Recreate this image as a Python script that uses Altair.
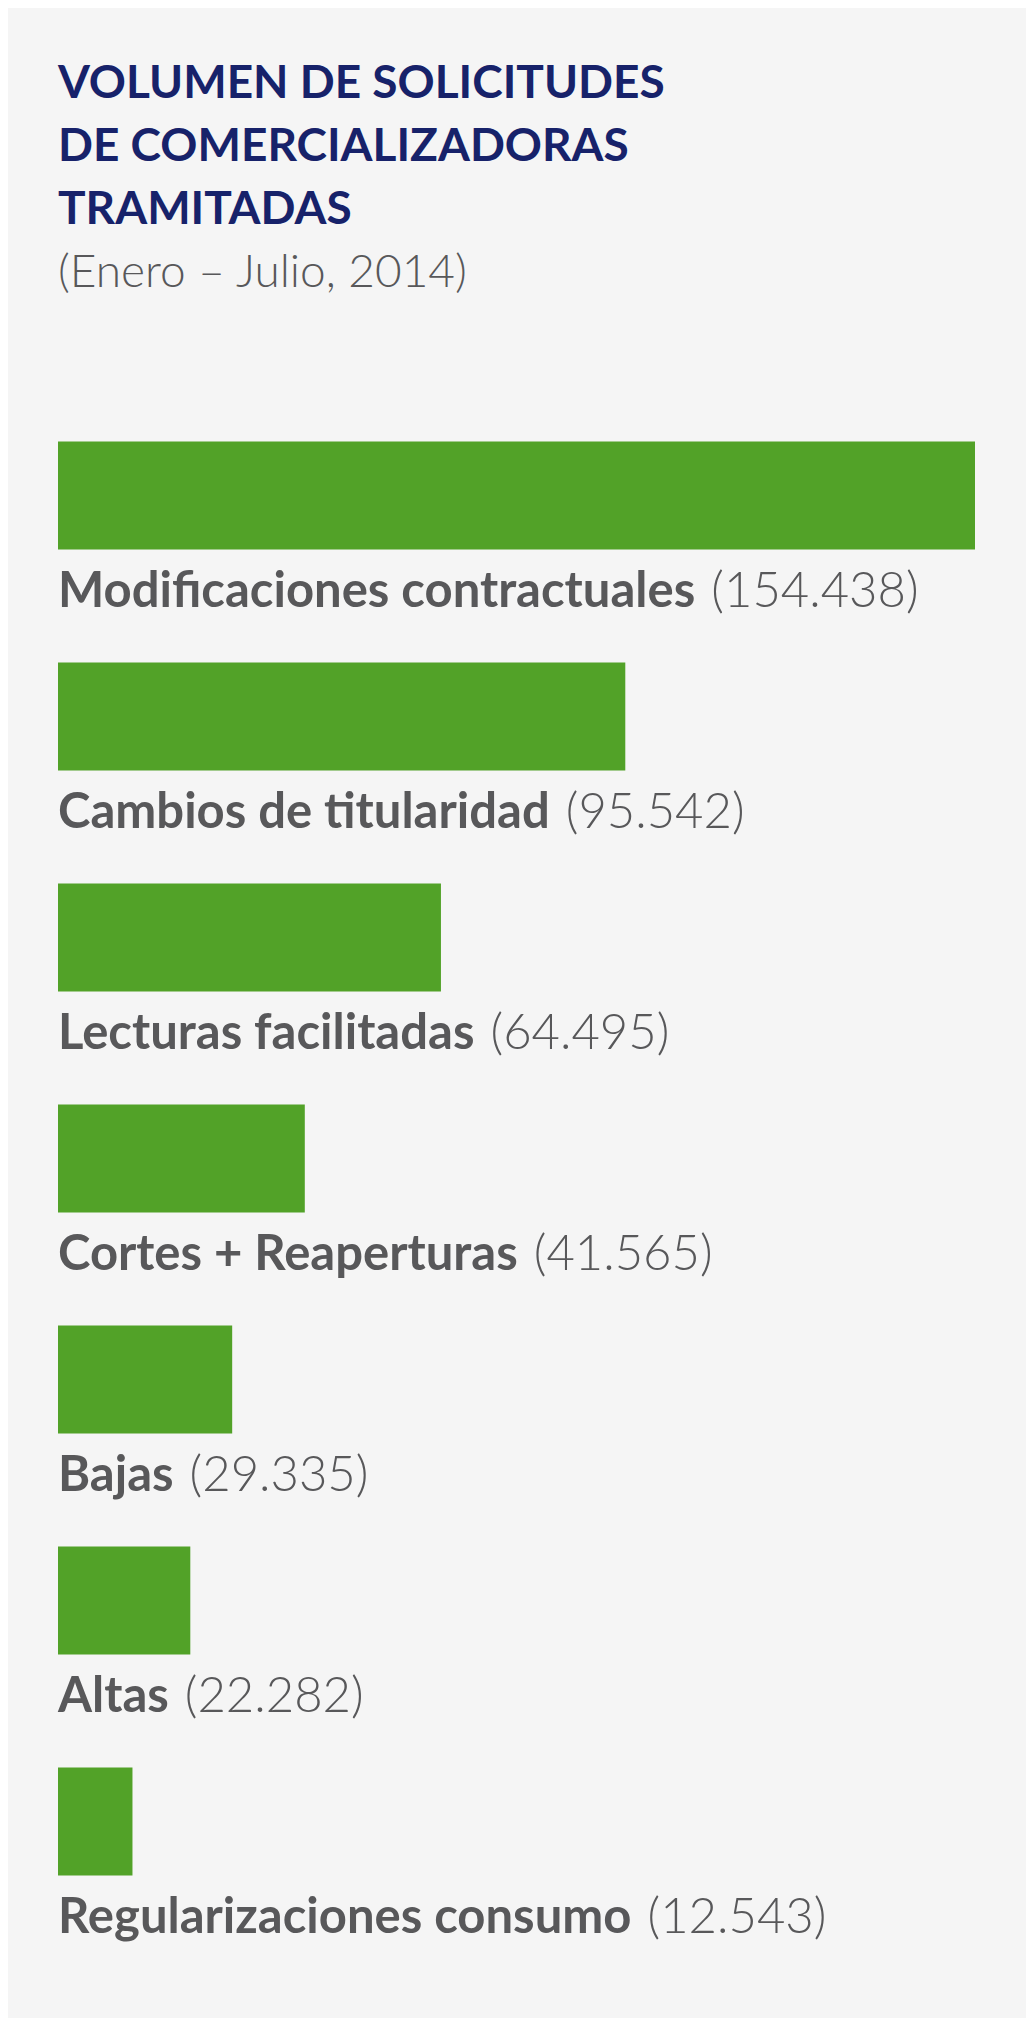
import glob
import altair as alt
import pandas as pd

# ---- data ----
categories = [
    "Modificaciones contractuales",
    "Cambios de titularidad",
    "Lecturas facilitadas",
    "Cortes + Reaperturas",
    "Bajas",
    "Altas",
    "Regularizaciones consumo",
]
values = [154438, 95542, 64495, 41565, 29335, 22282, 12543]
title_lines = ["VOLUMEN DE SOLICITUDES", "DE COMERCIALIZADORAS", "TRAMITADAS"]
subtitle_text = "(Enero – Julio, 2014)"

# ---- style ----
FONT = "Lato"
LABEL_SIZE = 49
NAVY = "#17226a"
GRAY = "#58585a"
GREEN = "#52a228"
BG = "#f5f5f5"
W = 917
STEP = 221
BAR = 108
LABEL_DY = 111


def fmt(v):
    return f"{v:,}".replace(",", ".")


# approximate Lato Bold advance widths (em) for measuring the bold label
_W = {
    "a": 0.52, "b": 0.57, "c": 0.46, "d": 0.57, "e": 0.53, "f": 0.34, "g": 0.51,
    "h": 0.57, "i": 0.25, "j": 0.25, "k": 0.53, "l": 0.25, "m": 0.85, "n": 0.57,
    "o": 0.57, "p": 0.57, "q": 0.57, "r": 0.39, "s": 0.43, "t": 0.37, "u": 0.57,
    "v": 0.52, "w": 0.79, "x": 0.51, "y": 0.52, "z": 0.45, " ": 0.26, "+": 0.58,
    "M": 0.84, "C": 0.66, "L": 0.49, "B": 0.63, "A": 0.70, "R": 0.63,
}


def measure(text):
    try:
        from PIL import ImageFont
        paths = glob.glob("/usr/share/fonts/**/Lato-Bold.ttf", recursive=True)
        if paths:
            f = ImageFont.truetype(paths[0], LABEL_SIZE)
            return float(f.getlength(text))
    except Exception:
        pass
    return sum(_W.get(ch, 0.55) for ch in text) * LABEL_SIZE


df = pd.DataFrame({
    "cat": categories,
    "val": values,
    "num": ["(" + fmt(v) + ")" for v in values],
    "w": [measure(c) for c in categories],
})

y_enc = alt.Y("cat:N", sort=categories, axis=None,
              scale=alt.Scale(paddingInner=0, paddingOuter=0))

bars = alt.Chart(df).mark_bar(size=BAR, color=GREEN).encode(
    x=alt.X("val:Q", axis=None,
            scale=alt.Scale(domain=[0, max(values)], nice=False, zero=True)),
    y=y_enc,
)

names = alt.Chart(df).mark_text(
    align="left", baseline="alphabetic", dy=LABEL_DY, font=FONT,
    fontSize=LABEL_SIZE, fontWeight="bold", color=GRAY,
).encode(x=alt.value(0), y=y_enc, text="cat:N")

nums = alt.Chart(df).mark_text(
    align="left", baseline="alphabetic", dy=LABEL_DY, dx=16, font=FONT,
    fontSize=LABEL_SIZE, fontWeight=300, color=GRAY,
).encode(
    x=alt.X("w:Q", axis=None, scale=alt.Scale(domain=[0, W], nice=False, zero=True)),
    y=y_enc,
    text="num:N",
)

chart = (
    alt.layer(bars, names, nums)
    .resolve_scale(x="independent")
    .properties(
        width=W,
        height=STEP * len(categories),
        background=BG,
        padding={"left": 50, "top": 53, "right": 51, "bottom": 75},
        title=alt.TitleParams(
            text=title_lines,
            subtitle=[subtitle_text],
            anchor="start",
            frame="group",
            font=FONT,
            fontSize=46,
            fontWeight="bold",
            color=NAVY,
            lineHeight=63,
            subtitleFont=FONT,
            subtitleFontSize=46,
            subtitleFontWeight=300,
            subtitleColor=GRAY,
            subtitlePadding=17,
            offset=88,
        ),
    )
    .configure_view(strokeWidth=0)
)

chart.save("out.html", embed_options={"renderer": "svg", "actions": False})
